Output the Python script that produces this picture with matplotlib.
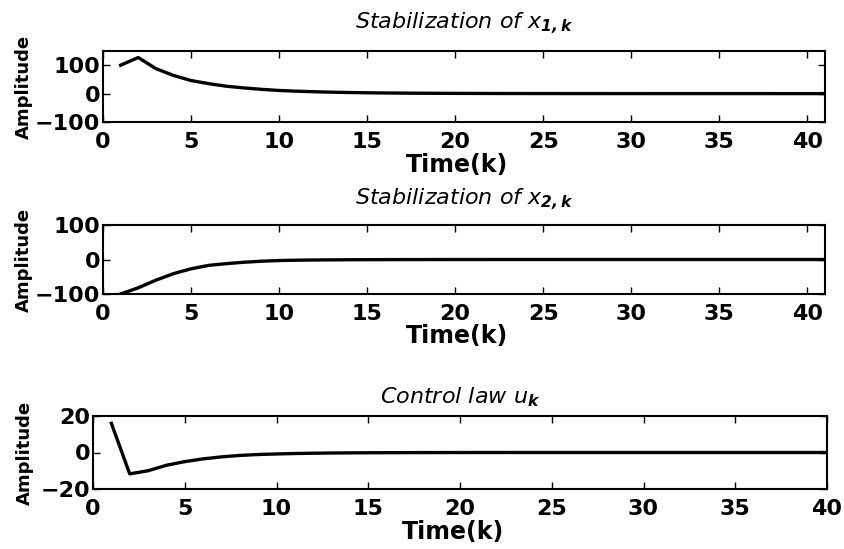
import numpy as np
import matplotlib
matplotlib.use('Agg')
import matplotlib.pyplot as plt

plt.rcParams['font.family'] = ['DejaVu Sans']
plt.rcParams['mathtext.fontset'] = 'custom'
plt.rcParams['mathtext.rm'] = 'DejaVu Sans:italic'
plt.rcParams['mathtext.it'] = 'DejaVu Sans:italic'
plt.rcParams['mathtext.bf'] = 'DejaVu Sans:italic:bold'

# state x1 over k = 1..41
k_state = list(range(1, 42))
x1 = [100, 127, 88, 64, 46, 35, 26, 20, 15, 11, 8.5, 6.5, 5, 3.8, 2.9, 2.2,
      1.7, 1.3, 1.0, 0.8, 0.6, 0.45, 0.35, 0.27, 0.2, 0.15, 0.12, 0.09, 0.07,
      0.05, 0.04, 0.03, 0.02, 0.02, 0.01, 0.01, 0.01, 0, 0, 0, 0]
x2 = [-100, -82, -60, -41, -27, -17, -12, -8, -5, -3, -2, -1.4, -1, -0.7,
      -0.5, -0.35, -0.25, -0.18, -0.12, -0.08, -0.06, -0.04, -0.03, -0.02,
      -0.01, -0.01, 0, 0, 0, 0, 0, 0, 0, 0, 0, 0, 0, 0, 0, 0, 0]

# control law over k = 1..40
k_ctrl = list(range(1, 41))
u = [16, -11.7, -10, -7, -5, -3.5, -2.4, -1.6, -1.1, -0.8, -0.55, -0.4,
     -0.28, -0.2, -0.14, -0.1, -0.07, -0.05, -0.03, -0.02, -0.01, -0.01,
     0, 0, 0, 0, 0, 0, 0, 0, 0, 0, 0, 0, 0, 0, 0, 0, 0, 0]

titles = [r'Stabilization of $x_{\mathbf{1,k}}$',
          r'Stabilization of $x_{\mathbf{2,k}}$',
          r'Control law $u_{\mathbf{k}}$']

fig = plt.figure(figsize=(8.44, 5.49), dpi=100)
W, H = 844, 549


def make_axes(left, top, right, bottom):
    return fig.add_axes([left / W, 1 - bottom / H, (right - left) / W, (bottom - top) / H])


ax1 = make_axes(103, 51, 825, 122)
ax2 = make_axes(103, 225, 825, 294)
ax3 = make_axes(93, 416, 827, 489)

panels = [
    (ax1, k_state, x1, (0, 41), (-100, 150), [-100, 0, 100], -0.097, 16.5),
    (ax2, k_state, x2, (0, 41), (-100, 100), [-100, 0, 100], -0.097, 14.5),
    (ax3, k_ctrl, u, (0, 40), (-20, 20), [-20, 0, 20], -0.080, 9),
]

for (ax, xs, ys, xl, yl, yt, ylab_x, tpad), title in zip(panels, titles):
    ax.plot(xs, ys, color='black', linewidth=2.4)
    ax.set_xlim(*xl)
    ax.set_ylim(*yl)
    ax.set_xticks(range(0, 41, 5))
    ax.set_yticks(yt)
    ax.tick_params(direction='in', top=True, right=True, length=5, width=1,
                   labelsize=16)
    ax.tick_params(axis='x', pad=7)
    ax.tick_params(axis='y', pad=2)
    for lab in ax.get_xticklabels() + ax.get_yticklabels():
        lab.set_fontweight('bold')
    for sp in ax.spines.values():
        sp.set_linewidth(1.5)
    ax.set_title(title, fontsize=16, style='italic', pad=tpad)
    ax.set_xlabel('Time(k)', fontsize=17, fontweight='bold')
    ax.xaxis.set_label_coords(0.49, -0.43)
    ax.set_ylabel('Amplitude', fontsize=13, fontweight='bold')
    ax.yaxis.set_label_coords(ylab_x, 0.5)

fig.savefig('out.png', dpi=100)
